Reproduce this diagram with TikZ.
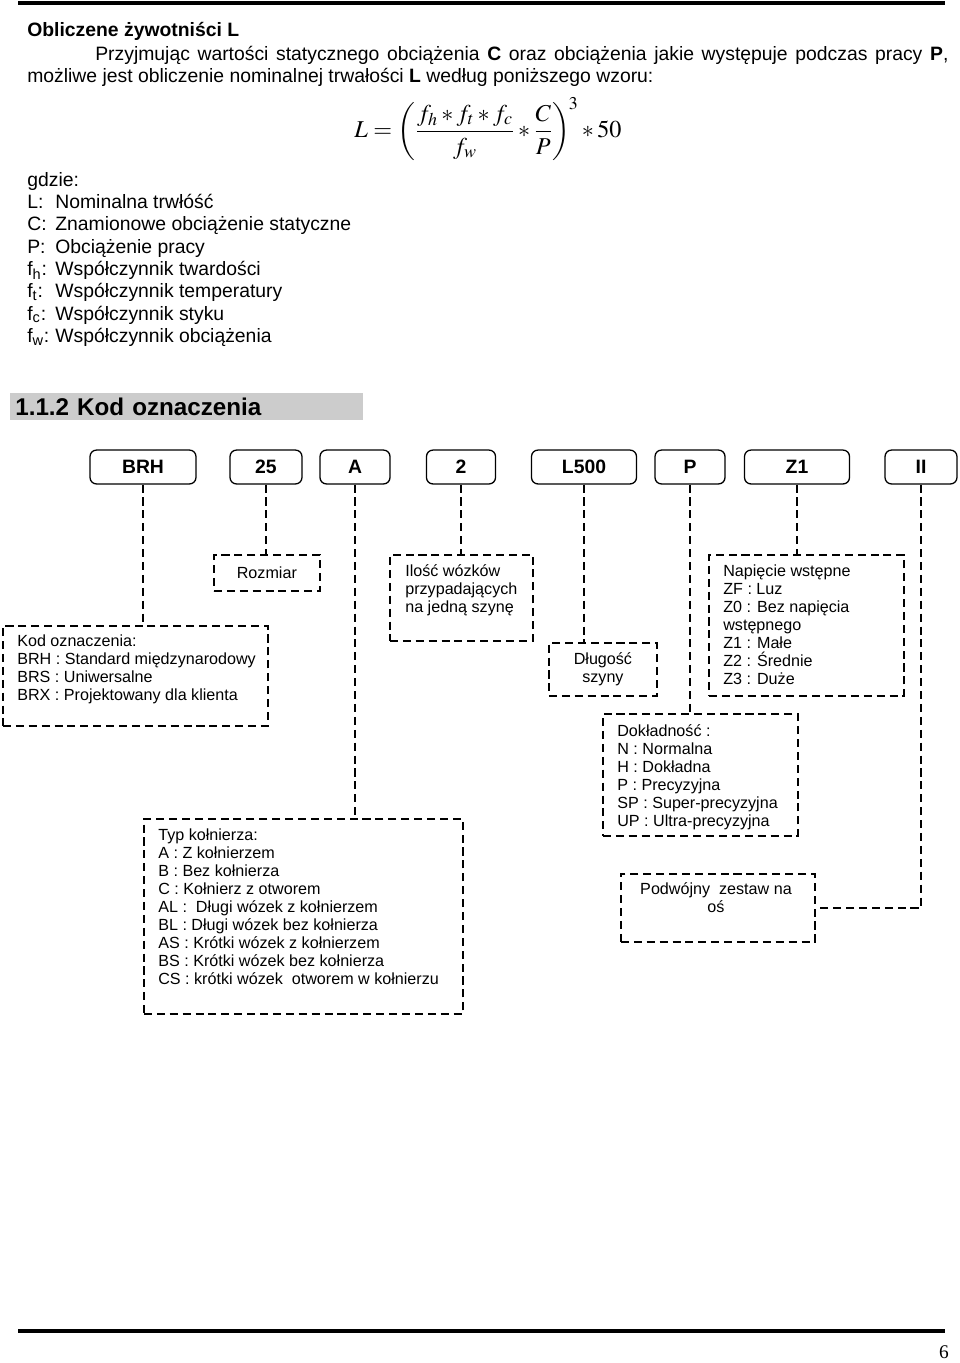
\documentclass[tikz,border=0pt]{standalone}
\usepackage{amsmath}
\usepackage{mathptmx}
\usepackage[no-math]{fontspec}
\setmainfont{Liberation Sans}
\newfontfamily\timesfont{Liberation Serif}
\usepackage{tikz}
\usetikzlibrary{shapes,arrows,positioning,fit}

\begin{document}
\begin{tikzpicture}[x=0.62pt,y=-0.62pt]
			\tikzstyle{Plain}	= [inner sep=0pt, anchor=base west, font=\fontsize{12}{13.85}\selectfont]
			\tikzstyle{Code}	= [draw, rounded corners=4pt, line width=0.8pt, minimum height=21pt, inner sep=0pt, font=\bfseries\fontsize{12}{14}\selectfont]
			\tikzstyle{Note}	= [draw, dash pattern=on 5pt off 3pt, line width=1.1pt, anchor=north west, inner sep=0pt, align=center, font=\fontsize{10}{11.16}\selectfont]
			\tikzstyle{NoteText}	= [anchor=north west, inner sep=0pt, align=left, font=\fontsize{10}{11.16}\selectfont]
			\tikzstyle{Link}	= [dash pattern=on 5pt off 3pt, line width=1.1pt]

			\useasboundingbox (0,0) rectangle (960,1363);

			% page rules
			\draw [line width=2.2pt] (18,3) -- (945,3);
			\draw [line width=1.9pt] (18,1331) -- (945,1331);
			\node (strona) at (944,1352) [font=\timesfont\fontsize{12}{14}\selectfont] {6};

			% text above the diagram
			\node (tytul) at (27,36) [Plain, font=\bfseries\fontsize{12}{14}\selectfont] {Obliczene żywotniści L};
			\node (akapit1) at (95,60) [Plain] {\makebox[528.9pt][s]{Przyjmując wartości statycznego obciążenia \textbf{C} oraz obciążenia jakie występuje podczas pracy \textbf{P},}};
			\node (akapit2) at (27,82) [Plain] {możliwe jest obliczenie nominalnej trwałości \textbf{L} według poniższego wzoru:};
			\node (wzor) at (488,129) [inner sep=0pt, font=\fontsize{15}{18}\selectfont] {$L=\left(\dfrac{f_h * f_t * f_c}{f_w} * \dfrac{C}{P}\right)^{\!3} * 50$};
			\node (legenda) at (27,186) [Plain] {%
				\begin{tabular}[t]{@{}p{17.4pt}@{}l@{}}
				\multicolumn{2}{@{}l@{}}{gdzie:}\\
				L: & Nominalna trwłóść\\
				C: & Znamionowe obciążenie statyczne\\
				P: & Obciążenie pracy\\
				f\textsubscript{h}: & Współczynnik twardości\\
				f\textsubscript{t}: & Współczynnik temperatury\\
				f\textsubscript{c}: & Współczynnik styku\\
				f\textsubscript{w}: & Współczynnik obciążenia
				\end{tabular}};

			% heading
			\node (naglowek) at (10,393) [anchor=north west, fill=black!20, text width=212.7pt, inner xsep=3.1pt, inner ysep=0pt, minimum height=16.7pt, align=left, font=\bfseries\fontsize{15}{17}\selectfont] {1.1.2 Kod oznaczenia};

			% code
			\node (brh) at (143,467) [Code, minimum width=65.7pt] {BRH};
			\node (b25) at (266,467) [Code, minimum width=44.6pt] {25};
			\node (bA) at (355,467) [Code, minimum width=43.4pt] {A};
			\node (b2) at (461,467) [Code, minimum width=42.8pt] {2};
			\node (bL) at (584,467) [Code, minimum width=65.1pt] {L500};
			\node (bP) at (690,467) [Code, minimum width=43.4pt] {P};
			\node (bZ) at (797,467) [Code, minimum width=65.1pt] {Z1};
			\node (bII) at (921,467) [Code, minimum width=44.6pt] {II};

			% descriptions
			\node (kod) at (2,625) [Note, minimum width=164.3pt, minimum height=62pt] {};
			\node (kodtxt) at (17,634) [NoteText] {Kod oznaczenia:\\BRH : Standard międzynarodowy\\BRS : Uniwersalne\\BRX : Projektowany dla klienta};
			\node (rozm) at (213,554) [Note, minimum width=65.7pt, minimum height=22.3pt] {Rozmiar};
			\node (ilosc) at (389,554) [Note, minimum width=88.7pt, minimum height=53.3pt] {};
			\node (ilosctxt) at (405,564) [NoteText] {Ilość wózków\\przypadających\\na jedną szynę};
			\node (dlug) at (548,642) [Note, minimum width=67pt, minimum height=32.9pt] {Długość\\szyny};
			\node (napi) at (708,554) [Note, minimum width=120.9pt, minimum height=87.4pt] {};
			\node (napitxt) at (723,564) [NoteText] {Napięcie wstępne\\ZF : Luz\\Z0 : Bez napięcia\\wstępnego\\Z1 : Małe\\Z2 : Średnie\\Z3 : Duże};
			\node (dokl) at (602,713) [Note, minimum width=120.9pt, minimum height=75.6pt] {};
			\node (dokltxt) at (617,724) [NoteText] {Dokładność :\\N : Normalna\\H : Dokładna\\P : Precyzyjna\\SP : Super-precyzyjna\\UP : Ultra-precyzyjna};
			\node (podw) at (620,873) [Note, minimum width=120.3pt, minimum height=42.2pt] {};
			\node (podwtxt) at (716,882) [NoteText, anchor=north, align=center] {Podwójny\ \ zestaw na\\oś};
			\node (typ) at (143,818) [Note, minimum width=197.8pt, minimum height=120.9pt] {};
			\node (typtxt) at (158,828) [NoteText] {Typ kołnierza:\\A : Z kołnierzem\\B : Bez kołnierza\\C : Kołnierz z otworem\\AL :\ \ Długi wózek z kołnierzem\\BL : Długi wózek bez kołnierza\\AS : Krótki wózek z kołnierzem\\BS : Krótki wózek bez kołnierza\\CS : krótki wózek\ \ otworem w kołnierzu};

			% links
			\draw [Link] (brh.south) -- (brh.south |- kod.north);
			\draw [Link] (b25.south) -- (b25.south |- rozm.north);
			\draw [Link] (bA.south) -- (bA.south |- typ.north);
			\draw [Link] (b2.south) -- (b2.south |- ilosc.north);
			\draw [Link] (bL.south) -- (bL.south |- dlug.north);
			\draw [Link] (bP.south) -- (bP.south |- dokl.north);
			\draw [Link] (bZ.south) -- (bZ.south |- napi.north);
			\draw [Link] (bII.south) |- (podw.east);

\end{tikzpicture}
\end{document}
